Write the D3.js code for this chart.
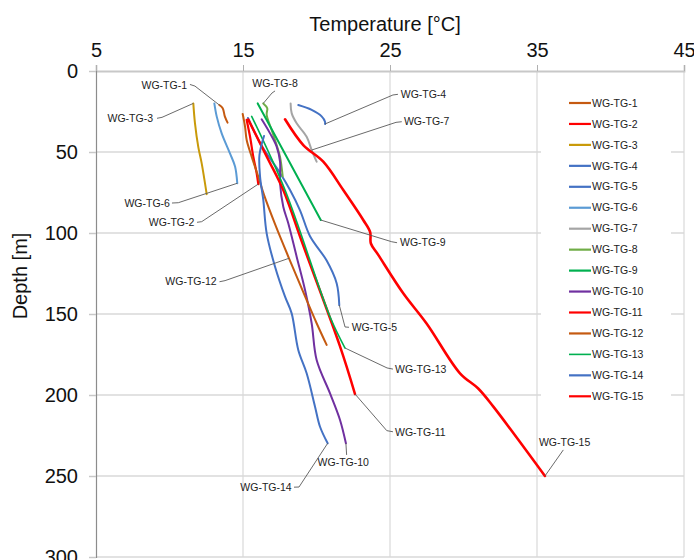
<!DOCTYPE html>
<html>
<head>
<meta charset="utf-8">
<script src="https://cdn.jsdelivr.net/npm/d3@7"></script>
<style>
  body { margin: 0; background: #fff; }
  svg { display: block; font-family: "Liberation Sans", Arial, sans-serif; }
</style>
</head>
<body>
<div id="chart"></div>
<script>
// temperature profiles, each point is [temperature °C, depth m]
var wgTg1 = [[13.39, 21], [13.62, 23], [13.77, 28.2], [13.95, 31.9]];
var wgTg2 = [[15.25, 30.2], [15.48, 40.6], [15.7, 52.9], [15.93, 63.1], [16.04, 69.8]];
var wgTg3 = [[11.62, 20], [11.73, 32], [11.96, 47], [12.19, 57], [12.53, 76]];
var wgTg4 = [[18.76, 21], [19.67, 24], [20.35, 28], [20.58, 31.3], [20.58, 32.7]];
var wgTg5 = [[15.34, 29], [16.2, 45], [17.52, 63], [18.2, 73.5], [18.88, 86], [19.56, 102], [20.69, 117], [21.37, 131], [21.55, 144.5]];
var wgTg6 = [[13.05, 20], [13.21, 28], [13.55, 38.5], [14.12, 51], [14.46, 59], [14.61, 69.3]];
var wgTg7 = [[18.24, 20], [18.31, 26], [18.65, 32.3], [19.33, 40.6], [19.67, 48.8], [20.01, 56]];
var wgTg8 = [[16.38, 20], [16.65, 23], [16.61, 27], [16.95, 36.4], [17.29, 45.7], [17.52, 53], [17.7, 65]];
var wgTg9 = [[16.0, 20], [18.15, 56], [20.29, 92]];
var wgTg10 = [[16.27, 29.8], [16.84, 38.5], [17.29, 46.7], [17.52, 56], [17.52, 69.3], [17.74, 83.8], [18.08, 94], [18.65, 114.6], [19.22, 135.2], [19.67, 155.7], [20.01, 178.4], [20.92, 199], [21.6, 215.4], [22.0, 229.8]];
var wgTg11 = [[15.36, 30], [16.68, 54], [17.74, 73.5], [19.07, 107], [21.6, 170], [22.62, 199.4]];
var wgTg12 = [[14.98, 26.5], [15.14, 34.4], [15.25, 42.6], [15.59, 52.9], [16.04, 65.2], [16.43, 76.5], [17.2, 95], [18.13, 115.6], [19.33, 141.4], [20.01, 155.7], [20.69, 169.1]];
var wgTg13 = [[15.59, 28], [17.86, 73.5], [20.92, 151.7], [21.94, 171]];
var wgTg14 = [[16.43, 40.1], [16.12, 51.9], [16.16, 65.2], [16.38, 79.6], [16.61, 100.2], [17.18, 120.8], [17.86, 139.3], [18.31, 149.6], [18.76, 172.2], [19.33, 186.6], [19.9, 207.2], [20.24, 219.6], [20.76, 229.8]];
var wgTg15 = [[17.86, 29.8], [19.1, 45.7], [20.46, 56], [21.82, 73.5], [23.18, 92], [23.65, 99.5], [23.7, 106.5], [24.2, 113.5], [25.9, 137.2], [27.5, 156], [29.76, 186.6], [31.0, 196], [32.03, 207.2], [35.54, 250]];

var seriesNames = ["WG-TG-1", "WG-TG-2", "WG-TG-3", "WG-TG-4", "WG-TG-5", "WG-TG-6", "WG-TG-7", "WG-TG-8",
  "WG-TG-9", "WG-TG-10", "WG-TG-11", "WG-TG-12", "WG-TG-13", "WG-TG-14", "WG-TG-15"];
var seriesData = [wgTg1, wgTg2, wgTg3, wgTg4, wgTg5, wgTg6, wgTg7, wgTg8, wgTg9, wgTg10, wgTg11, wgTg12, wgTg13, wgTg14, wgTg15];

var tempTicks = [5, 15, 25, 35, 45];
var depthTicks = [0, 50, 100, 150, 200, 250, 300];

var colors = ["#C55A11", "#FF0000", "#C99A0A", "#4472C4", "#4472C4", "#5B9BD5", "#A5A5A5", "#70AD47",
  "#00B050", "#7030A0", "#FF0000", "#C55A11", "#00B050", "#4472C4", "#FF0000"];
var widths = [2, 2.2, 2, 2, 2, 2, 2, 2, 2, 2, 2.5, 2, 1.6, 2, 2.6];

// data labels: text position and leader bends in data units, target = point index (-1 = last)
var labels = [
  {s: 0, at: 0, pos: [11.19, 8.6], anchor: "end", bends: [[11.39, 8.3], [11.73, 9.3]]},
  {s: 1, at: -1, pos: [11.69, 93.4], anchor: "end", bends: [[11.87, 93.4], [12.19, 93.0]]},
  {s: 2, at: 0, pos: [8.88, 29.2], anchor: "end", bends: [[9.15, 29.2], [9.49, 28.6]]},
  {s: 3, at: -1, pos: [25.73, 14.2], anchor: "start", bends: [[25.54, 14.4], [25.2, 14.8]]},
  {s: 4, at: -1, pos: [22.39, 158.2], anchor: "start", bends: [[22.21, 158.2], [21.94, 158]]},
  {s: 5, at: -1, pos: [10.03, 81.7], anchor: "end", bends: [[10.17, 81.5], [10.6, 81.3]]},
  {s: 6, at: 4, pos: [25.95, 31.3], anchor: "start", bends: [[25.8, 31.3], [25.41, 31.7]]},
  {s: 7, at: 0, pos: [17.18, 7.6], anchor: "middle", bends: [[17.18, 12.3], [16.97, 13.6]]},
  {s: 8, at: -1, pos: [25.68, 106], anchor: "start", bends: [[25.48, 106], [25.12, 105.4]]},
  {s: 9, at: -1, pos: [21.82, 241.5], anchor: "middle", bends: [[22.05, 237]]},
  {s: 10, at: -1, pos: [25.34, 223.3], anchor: "start", bends: [[25.2, 222.7], [24.78, 222]]},
  {s: 11, at: 7, pos: [13.21, 130.1], anchor: "end", bends: [[13.4, 130.1], [13.78, 129.4]]},
  {s: 12, at: -1, pos: [25.34, 184], anchor: "start", bends: [[25.2, 184], [24.8, 183.3]]},
  {s: 13, at: -1, pos: [18.31, 257], anchor: "end", bends: [[18.47, 256.9], [18.81, 256.8]]},
  {s: 14, at: -1, pos: [36.88, 229.2], anchor: "middle", bends: [[36.79, 233.9]]}
];

var width = 694, height = 560;
var svg = d3.select("#chart").append("svg")
  .attr("width", width)
  .attr("height", height);

var x = d3.scaleLinear().domain([5, 45]).range([96, 684]);
var y = d3.scaleLinear().domain([0, 300]).range([71, 557]);

// grid
svg.append("g")
  .selectAll("line")
  .data(depthTicks.slice(1))
  .enter().append("line")
  .attr("x1", x(5)).attr("x2", x(45))
  .attr("y1", d => y(d)).attr("y2", d => y(d))
  .style("stroke", "#d9d9d9").style("stroke-width", 1.5);

svg.append("g")
  .selectAll("line")
  .data(tempTicks.slice(1))
  .enter().append("line")
  .attr("x1", d => x(d)).attr("x2", d => x(d))
  .attr("y1", y(0)).attr("y2", y(300))
  .style("stroke", "#d9d9d9").style("stroke-width", 1.2);

// axes
var xAxis = svg.append("g")
  .attr("transform", `translate(0,${y(0)})`)
  .call(d3.axisTop(x).tickValues(tempTicks).tickSize(6).tickPadding(8));
xAxis.select(".domain").style("stroke", "#c8c8c8").style("stroke-width", 1.8);
xAxis.selectAll(".tick line").style("stroke", "#b0b0b0");
xAxis.selectAll("text").style("font-size", "20px").style("fill", "#111")
  .style("font-family", "'Liberation Sans', Arial, sans-serif");

var yAxis = svg.append("g")
  .attr("transform", `translate(${x(5)},0)`)
  .call(d3.axisLeft(y).tickValues(depthTicks).tickSize(7).tickPadding(11));
yAxis.select(".domain").style("stroke", "#8c8c8c").style("stroke-width", 1.2);
yAxis.selectAll(".tick line").style("stroke", "#c8c8c8").style("stroke-width", 1.5);
yAxis.selectAll("text").style("font-size", "20px").style("fill", "#111")
  .style("font-family", "'Liberation Sans', Arial, sans-serif");

svg.append("text")
  .attr("x", 385).attr("y", 24)
  .attr("text-anchor", "middle")
  .attr("dy", "0.35em")
  .style("font-size", "20px").style("fill", "#111")
  .text("Temperature [°C]");

svg.append("text")
  .attr("transform", "translate(20,276) rotate(-90)")
  .attr("text-anchor", "middle")
  .attr("dy", "0.35em")
  .style("font-size", "20px").style("fill", "#111")
  .text("Depth [m]");

// profiles
var line = d3.line()
  .x(d => x(d[0]))
  .y(d => y(d[1]))
  .curve(d3.curveCatmullRom.alpha(0.5));

svg.append("g")
  .selectAll("path")
  .data(seriesData)
  .enter().append("path")
  .attr("d", d => line(d))
  .style("fill", "none")
  .style("stroke", (d, i) => colors[i])
  .style("stroke-width", (d, i) => widths[i])
  .style("stroke-linejoin", "round")
  .style("stroke-linecap", "round");

// data labels with leader lines
var leader = d3.line().x(d => x(d[0])).y(d => y(d[1]));
var lab = svg.append("g");
labels.forEach(function(l) {
  var pts = seriesData[l.s];
  var target = l.at < 0 ? pts[pts.length - 1] : pts[l.at];
  lab.append("path")
    .attr("d", leader(l.bends.concat([target])))
    .style("fill", "none")
    .style("stroke", "#595959")
    .style("stroke-width", 0.9);
  lab.append("text")
    .attr("x", x(l.pos[0])).attr("y", y(l.pos[1]))
    .attr("dy", "0.35em")
    .attr("text-anchor", l.anchor)
    .style("font-size", "10.5px").style("fill", "#222")
    .text(seriesNames[l.s]);
});

// legend
var legend = svg.append("g");
legend.append("rect")
  .attr("x", 541).attr("y", 88)
  .attr("width", 130).attr("height", 322)
  .style("fill", "#fff");

var rows = legend.selectAll(".row")
  .data(seriesNames)
  .enter().append("g")
  .attr("class", "row")
  .attr("transform", (d, i) => `translate(569,${103 + i * 20.95})`);

rows.append("line")
  .attr("x1", 0).attr("x2", 22)
  .style("stroke", (d, i) => colors[i])
  .style("stroke-width", (d, i) => i === 12 ? 1.6 : 2.2);

rows.append("text")
  .attr("x", 23)
  .attr("dy", "0.35em")
  .style("font-size", "10.5px").style("fill", "#222")
  .text(d => d);
</script>
</body>
</html>
